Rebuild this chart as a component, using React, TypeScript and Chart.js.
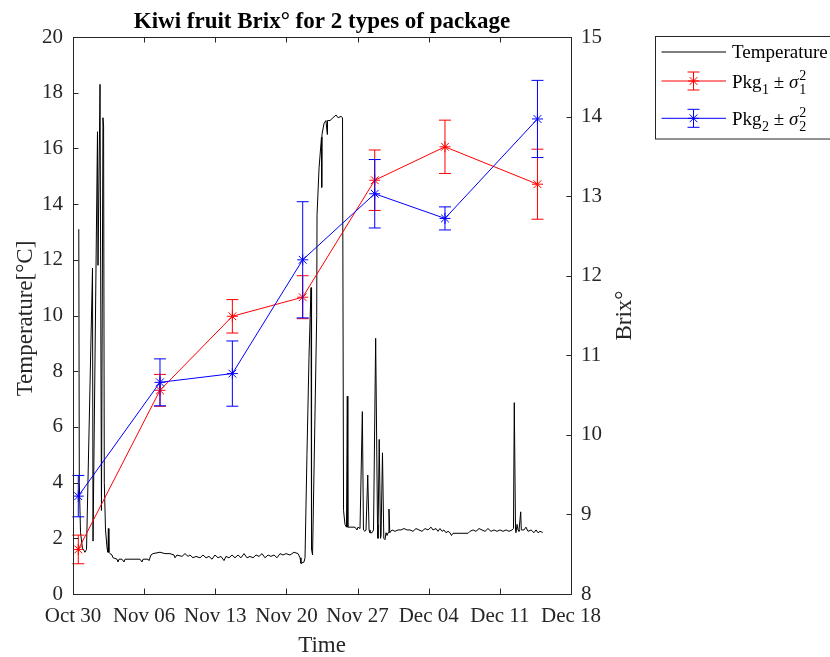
import React, { useEffect, useRef } from 'react';
import { Chart, registerables } from 'chart.js';

Chart.register(...registerables);

// ---------- data ----------
const tickLabels = ['Oct 30', 'Nov 06', 'Nov 13', 'Nov 20', 'Nov 27', 'Dec 04', 'Dec 11', 'Dec 18'];

// temperature log: days since Oct 30 and °C
const tempDays = [
  0.57, 0.62, 0.74, 0.93, 1.18, 1.33, 1.92, 1.97, 2.41, 2.46, 2.66, 2.8, 2.95, 3.01, 3.08, 3.2, 3.35, 3.44, 3.48, 3.53,
  3.64, 3.84, 3.94, 4.33, 4.43, 4.53, 4.82, 5.02, 5.12, 6.1, 6.59, 6.79, 6.89, 7.38, 7.48, 7.67, 7.87, 8.56, 9.05, 9.54,
  9.94, 10.04, 10.23, 10.73, 11.02, 11.32, 11.51, 11.81, 12.1, 12.5, 12.79, 13.09, 13.38, 13.68, 13.97, 14.27, 14.56,
  14.86, 15.05, 15.35, 15.65, 15.94, 16.24, 16.53, 16.83, 17.12, 17.42, 17.71, 18.01, 18.3, 18.6, 18.89, 19.19, 19.48,
  19.78, 20.07, 20.37, 20.66, 20.96, 21.35, 21.75, 22.14, 22.34, 22.43, 22.73, 22.83,
  23.02, 23.22, 23.42, 23.47, 23.57, 23.98, 24.01, 24.21, 24.45, 24.47, 24.5, 24.7, 24.89, 25.02, 25.04, 25.29,
  25.58, 25.88, 26.08, 26.37, 26.52, 26.62, 26.76, 26.91, 26.99, 27.04,
  27.26, 27.75, 27.94, 28.04, 28.24, 28.47, 28.58, 28.73, 28.83, 29.0, 29.13, 29.22, 29.42, 29.57, 29.78, 29.96, 30.01,
  30.13, 30.26, 30.31, 30.45, 30.58, 30.7, 30.8, 30.9, 31.0, 31.09, 31.17, 31.39, 31.68,
  31.98, 32.27, 32.57, 32.86, 33.16, 33.45, 33.75, 34.04, 34.34, 34.64, 34.93, 35.23, 35.42, 35.72, 35.91, 36.11, 36.31,
  36.5, 36.7, 36.9, 37.1, 37.24, 37.39, 38.87, 39.06, 39.36, 39.65, 39.95, 40.24, 40.54, 40.83, 41.13, 41.43, 41.72,
  42.02, 42.31, 42.61, 42.9, 43.2, 43.34, 43.42, 43.54, 43.59, 43.69, 43.79, 43.88, 44.05, 44.11, 44.38, 44.57, 44.77,
  45.07, 45.36, 45.56, 45.75, 45.95, 46.22,
];
const tempValues = [
  13.1, 4.0, 2.2, 1.65, 1.5, 1.6, 11.7, 1.9, 16.6, 11.8, 18.3, 3.0, 17.1, 16.8, 4.0, 2.3, 1.65, 1.5, 2.35, 1.5,
  1.45, 1.4, 1.3, 1.25, 1.15, 1.25, 1.25, 1.15, 1.25, 1.25, 1.25, 1.15, 1.25, 1.25, 1.2, 1.4, 1.45, 1.5, 1.45, 1.45,
  1.4, 1.3, 1.4, 1.35, 1.45, 1.35, 1.4, 1.3, 1.35, 1.3, 1.4, 1.3, 1.35, 1.25, 1.4, 1.3, 1.35,
  1.2, 1.35, 1.3, 1.4, 1.3, 1.4, 1.3, 1.45, 1.3, 1.35, 1.3, 1.4, 1.35, 1.45, 1.3, 1.4, 1.35,
  1.4, 1.3, 1.45, 1.4, 1.45, 1.4, 1.5, 1.45, 1.3, 1.1, 1.15, 1.3,
  5.0, 8.5, 11.0, 1.6, 1.4, 10.0, 13.6, 15.3, 16.4, 14.6, 16.5, 16.9, 17.0, 16.5, 17.0, 17.0,
  17.1, 17.2, 17.1, 17.15, 17.1, 3.0, 2.5, 2.4, 7.1, 2.4,
  2.4, 2.4, 2.3, 2.4, 2.35, 6.55, 2.3, 2.25, 2.3, 4.27, 2.3, 2.2, 2.2, 2.3, 9.18, 2.5, 2.0,
  5.55, 2.0, 2.1, 5.07, 2.0, 1.95, 2.2, 2.1, 2.2, 3.05, 2.2, 2.3, 2.25,
  2.3, 2.3, 2.35, 2.3, 2.3, 2.25, 2.35, 2.3, 2.25, 2.35, 2.3, 2.4, 2.3, 2.35, 2.25, 2.35, 2.25,
  2.3, 2.2, 2.25, 2.2, 2.1, 2.18, 2.18, 2.25, 2.3, 2.25, 2.35, 2.3, 2.25, 2.35, 2.25, 2.3, 2.25,
  2.3, 2.25, 2.3, 2.25, 2.3, 2.35, 6.87, 2.3, 2.2, 2.5, 2.3, 2.25, 2.95, 2.3, 2.3, 2.4, 2.25,
  2.3, 2.2, 2.3, 2.2, 2.25, 2.21,
];

// Brix samples (days since Oct 30)
const sampleDays = [0.52, 8.56, 15.68, 22.6, 29.69, 36.6, 45.7];
const pkg1Brix = [8.56, 10.56, 11.49, 11.73, 13.2, 13.62, 13.15];
const pkg1Var = [0.18, 0.2, 0.21, 0.27, 0.38, 0.335, 0.44];
const pkg2Brix = [9.23, 10.66, 10.77, 12.2, 13.03, 12.72, 13.97];
const pkg2Var = [0.26, 0.295, 0.41, 0.73, 0.43, 0.145, 0.485];

const SERIF = '"Liberation Serif", "Times New Roman", serif';
const AX = '#262626';

const decor = {
  id: 'decor',
  beforeDraw(chart: any) {
    const ctx = chart.ctx;
    ctx.save();
    ctx.fillStyle = '#ffffff';
    ctx.fillRect(0, 0, chart.width, chart.height);
    ctx.restore();
  },
  afterDatasetDraw(chart: any, args: any) {
    const ds = chart.data.datasets[args.index];
    if (!ds.errors) return;
    const ctx = chart.ctx;
    const xs = chart.scales.x;
    const ys = chart.scales[ds.yAxisID];
    ctx.save();
    ctx.strokeStyle = ds.borderColor;
    ctx.lineWidth = 1;
    ds.data.forEach((p: any, i: number) => {
      const px = xs.getPixelForValue(p.x);
      const top = ys.getPixelForValue(p.y + ds.errors[i]);
      const bot = ys.getPixelForValue(p.y - ds.errors[i]);
      ctx.beginPath();
      ctx.moveTo(px, top);
      ctx.lineTo(px, bot);
      ctx.moveTo(px - 6, top);
      ctx.lineTo(px + 6, top);
      ctx.moveTo(px - 6, bot);
      ctx.lineTo(px + 6, bot);
      ctx.stroke();
    });
    ctx.restore();
  },
  afterDraw(chart: any) {
    const ctx = chart.ctx;
    const { left, right, top, bottom } = chart.chartArea;
    ctx.save();
    // box
    ctx.strokeStyle = AX;
    ctx.lineWidth = 1;
    ctx.strokeRect(left + 0.5, top + 0.5, right - left, bottom - top);
    // tick marks (inward)
    const TL = 5.5;
    ctx.beginPath();
    chart.scales.x.ticks.forEach((t: any) => {
      const p = Math.round(chart.scales.x.getPixelForValue(t.value)) + 0.5;
      ctx.moveTo(p, bottom);
      ctx.lineTo(p, bottom - TL);
      ctx.moveTo(p, top);
      ctx.lineTo(p, top + TL);
    });
    chart.scales.y.ticks.forEach((t: any) => {
      const p = Math.round(chart.scales.y.getPixelForValue(t.value)) + 0.5;
      ctx.moveTo(left, p);
      ctx.lineTo(left + TL, p);
    });
    chart.scales.y1.ticks.forEach((t: any) => {
      const p = Math.round(chart.scales.y1.getPixelForValue(t.value)) + 0.5;
      ctx.moveTo(right + 1, p);
      ctx.lineTo(right + 1 - TL, p);
    });
    ctx.stroke();

    // title
    ctx.fillStyle = '#000000';
    ctx.font = `bold 23px ${SERIF}`;
    ctx.textAlign = 'center';
    ctx.textBaseline = 'alphabetic';
    ctx.fillText('Kiwi fruit Brix\u00B0 for 2 types of package', (left + right) / 2, 27.5);

    // axis titles
    ctx.fillStyle = AX;
    ctx.font = `23px ${SERIF}`;
    ctx.fillText('Time', (left + right) / 2, 651.5);
    const cy = (top + bottom) / 2;
    ctx.save();
    ctx.translate(31.5, cy + 3);
    ctx.rotate(-Math.PI / 2);
    ctx.fillText('Temperature[\u00B0C]', 0, 0);
    ctx.restore();
    ctx.save();
    ctx.translate(631, cy);
    ctx.rotate(-Math.PI / 2);
    ctx.fillText('Brix\u00B0', 0, 0);
    ctx.restore();

    // legend
    const bx = 655.5, by = 36.5, bh = 102.5;
    ctx.fillStyle = '#ffffff';
    ctx.fillRect(bx, by, 300, bh);
    ctx.strokeStyle = AX;
    ctx.strokeRect(bx, by, 300, bh);
    const lx0 = 661.5, lx1 = 726, mx = 693.5, tx = 732;
    const rows = [52, 81, 118.3];
    const bases = [58.3, 87.5, 125];
    // temperature
    ctx.strokeStyle = '#000000';
    ctx.beginPath();
    ctx.moveTo(lx0, rows[0]);
    ctx.lineTo(lx1, rows[0]);
    ctx.stroke();
    ctx.textAlign = 'left';
    ctx.fillStyle = '#000000';
    ctx.font = `19px ${SERIF}`;
    ctx.fillText('Temperature', tx, bases[0]);
    const pk = [
      { c: '#ff0000', n: '1' },
      { c: '#0000ff', n: '2' },
    ];
    pk.forEach((s, k) => {
      const y = rows[k + 1];
      ctx.strokeStyle = s.c;
      ctx.lineWidth = 1;
      ctx.beginPath();
      ctx.moveTo(lx0, y);
      ctx.lineTo(lx1, y);
      ctx.moveTo(mx, y - 9);
      ctx.lineTo(mx, y + 9);
      ctx.moveTo(mx - 6, y - 9);
      ctx.lineTo(mx + 6, y - 9);
      ctx.moveTo(mx - 6, y + 9);
      ctx.lineTo(mx + 6, y + 9);
      // asterisk marker
      const r = 5.5, d = r * Math.SQRT1_2;
      ctx.moveTo(mx - r, y);
      ctx.lineTo(mx + r, y);
      ctx.moveTo(mx, y - r);
      ctx.lineTo(mx, y + r);
      ctx.moveTo(mx - d, y - d);
      ctx.lineTo(mx + d, y + d);
      ctx.moveTo(mx - d, y + d);
      ctx.lineTo(mx + d, y - d);
      ctx.stroke();
      // label text
      const base = bases[k + 1];
      let x = tx;
      ctx.fillStyle = '#000000';
      ctx.font = `19px ${SERIF}`;
      ctx.fillText('Pkg', x, base);
      x += ctx.measureText('Pkg').width + 0.5;
      ctx.font = `14px ${SERIF}`;
      ctx.fillText(s.n, x, base + 6);
      x += ctx.measureText(s.n).width;
      ctx.font = `19px ${SERIF}`;
      const pm = ' \u00B1 ';
      ctx.fillText(pm, x, base);
      x += ctx.measureText(pm).width;
      ctx.font = `italic 19px ${SERIF}`;
      ctx.fillText('\u03C3', x, base);
      x += ctx.measureText('\u03C3').width + 1;
      ctx.font = `14px ${SERIF}`;
      ctx.fillText('2', x, base - 8);
      ctx.fillText(s.n, x, base + 6);
    });
    ctx.restore();
  },
};

export default function App() {
  const ref = useRef<HTMLCanvasElement | null>(null);
  useEffect(() => {
    if (!ref.current) return;
    const tempData = tempDays.map((d, i) => ({ x: d, y: tempValues[i] }));
    const p1 = sampleDays.map((d, i) => ({ x: d, y: pkg1Brix[i] }));
    const p2 = sampleDays.map((d, i) => ({ x: d, y: pkg2Brix[i] }));
    const tickFont = { family: SERIF, size: 21 };
    const chart = new Chart(ref.current, {
      type: 'line',
      data: {
        datasets: [
          {
            label: 'Temperature',
            data: tempData,
            yAxisID: 'y',
            borderColor: '#000000',
            borderWidth: 1,
            pointRadius: 0,
            tension: 0,
            order: 3,
          } as any,
          {
            label: 'Pkg1',
            data: p1,
            yAxisID: 'y1',
            borderColor: '#ff0000',
            backgroundColor: '#ff0000',
            borderWidth: 1,
            pointStyle: 'star',
            pointRadius: 5.5,
            pointBorderWidth: 1,
            pointBorderColor: '#ff0000',
            tension: 0,
            order: 2,
            errors: pkg1Var,
          } as any,
          {
            label: 'Pkg2',
            data: p2,
            yAxisID: 'y1',
            borderColor: '#0000ff',
            backgroundColor: '#0000ff',
            borderWidth: 1,
            pointStyle: 'star',
            pointRadius: 5.5,
            pointBorderWidth: 1,
            pointBorderColor: '#0000ff',
            tension: 0,
            order: 1,
            errors: pkg2Var,
          } as any,
        ],
      },
      options: {
        responsive: false,
        animation: false,
        devicePixelRatio: 1,
        layout: { padding: { top: 37, left: 0, right: 0, bottom: 0 } },
        plugins: {
          legend: { display: false },
          title: { display: false },
          tooltip: { enabled: false },
        },
        scales: {
          x: {
            type: 'linear',
            min: 0,
            max: 49,
            grid: { display: false, drawTicks: false },
            border: { display: false },
            ticks: {
              stepSize: 7,
              autoSkip: false,
              maxRotation: 0,
              padding: 10,
              color: AX,
              font: tickFont,
              callback: (v: any) => tickLabels[Math.round(Number(v) / 7)],
            },
            afterFit: (s: any) => {
              s.height = 63;
            },
          },
          y: {
            type: 'linear',
            position: 'left',
            min: 0,
            max: 20,
            grid: { display: false, drawTicks: false },
            border: { display: false },
            ticks: { stepSize: 2, padding: 10, color: AX, font: tickFont },
            afterFit: (s: any) => {
              s.width = 73;
            },
          },
          y1: {
            type: 'linear',
            position: 'right',
            min: 8,
            max: 15,
            grid: { display: false, drawTicks: false },
            border: { display: false },
            ticks: { stepSize: 1, padding: 10, color: AX, font: tickFont },
            afterFit: (s: any) => {
              s.width = 259;
            },
          },
        },
      } as any,
      plugins: [decor],
    });
    return () => chart.destroy();
  }, []);
  return (
    <div style={{ position: 'absolute', left: 0, top: 0, width: 830, height: 657 }}>
      <canvas ref={ref} width={830} height={657} style={{ width: 830, height: 657, display: 'block' }} />
    </div>
  );
}
